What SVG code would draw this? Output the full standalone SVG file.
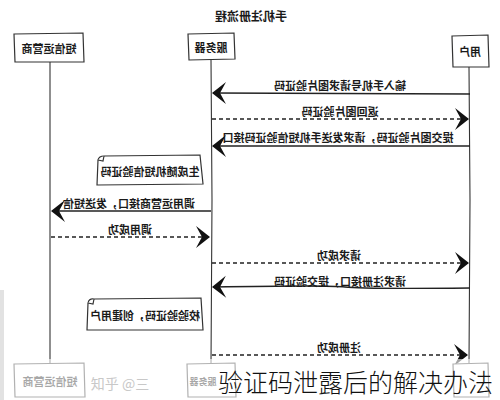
<svg xmlns="http://www.w3.org/2000/svg" width="500" height="400" viewBox="0 0 500 400">
<style>
.t{font-family:"Noto Sans CJK SC","Noto Sans CJK JP",sans-serif;font-size:11px;fill:#1a1a1a;text-anchor:middle;dominant-baseline:central;font-weight:600}
.title{font-size:12px;font-weight:700}
.box{fill:#fff;stroke:#333;stroke-width:1.2}
.life{stroke:#333;stroke-width:1.1;fill:none}
.msg{stroke:#222;stroke-width:1.4;fill:none}
.dash{stroke:#222;stroke-width:1.3;fill:none;stroke-dasharray:4 3}
.note{fill:#fff;stroke:#333;stroke-width:1.2}
.big{font-family:"Noto Sans CJK SC",sans-serif;font-size:25px;font-weight:300;fill:#111}
</style>
<defs>
<marker id="ah" viewBox="-15 -13 17 26" refX="0" refY="0" markerWidth="17" markerHeight="26" markerUnits="userSpaceOnUse" orient="auto">
<path d="M1,0 L-13,-11 L-7,0 L-13,11 Z" fill="#111"/>
</marker>
</defs>
<rect width="500" height="400" fill="#fff"/>
<g id="title"><text class="t title" transform="translate(251,15) scale(-1,1)">手机注册流程</text></g>
<g id="lifelines">
<path class="life" d="M50,62 L50,364"/>
<path class="life" d="M211,59 L212,200 L211,364"/>
<path class="life" d="M469,67 L470,200 L469,363"/>
</g>
<g id="sms"><path class="box" d="M14,34 L83,33 L84,62 L15,62 Z"/><text class="t" transform="translate(49,48) scale(-1,1)">短信运营商</text></g>
<g id="server"><path class="box" d="M188,34 L234,33 L235,59 L189,60 Z"/><text class="t" transform="translate(211,47) scale(-1,1)">服务器</text></g>
<g id="user"><path class="box" d="M452,36 L488,35 L489,67 L453,67 Z"/><text class="t" transform="translate(470,51) scale(-1,1)">用户</text></g>
<g id="note1"><path class="note" d="M98,160 Q99,156 104,156 L200,155 L203,184 L97,185 Z"/><path class="note" d="M98,160 L103,161 L104,156"/><text class="t" transform="translate(150,171) scale(-1,1)">生成随机短信验证码</text></g>
<g id="note2"><path class="note" d="M88,303 Q89,298 94,299 L201,298 L203,330 L87,330 Z"/><path class="note" d="M88,303 L93,304 L94,299"/><text class="t" transform="translate(145,315) scale(-1,1)">校验验证码，创建用户</text></g>
<g id="connectors">
<path class="msg" d="M470,94 L213,93" marker-end="url(#ah)"/>
<text class="t" transform="translate(340,85) scale(-1,1)">输入手机号请求图片验证码</text>
<path class="dash" d="M212,119 L468,119" marker-end="url(#ah)"/>
<text class="t" transform="translate(340,111) scale(-1,1)">返回图片验证码</text>
<path class="msg" d="M470,146 L213,146" marker-end="url(#ah)"/>
<text class="t" transform="translate(338,137) scale(-1,1)">提交图片验证码，请求发送手机短信验证码接口</text>
<path class="msg" d="M211,211 L52,211" marker-end="url(#ah)"/>
<text class="t" transform="translate(129,203) scale(-1,1)">调用运营商接口，发送短信</text>
<path class="dash" d="M51,237 L209,237" marker-end="url(#ah)"/>
<text class="t" transform="translate(130,229) scale(-1,1)">调用成功</text>
<path class="dash" d="M212,263 L468,263" marker-end="url(#ah)"/>
<text class="t" transform="translate(339,255) scale(-1,1)">请求成功</text>
<path class="msg" d="M470,288 Q360,289 345,287 Q330,285 213,287" marker-end="url(#ah)"/>
<text class="t" transform="translate(340,281) scale(-1,1)">请求注册接口，提交验证码</text>
<path class="dash" d="M212,355 L467,355" marker-end="url(#ah)"/>
<text class="t" transform="translate(339,347) scale(-1,1)">注册成功</text>
</g>
<g id="sms-bottom"><path class="box" d="M14,364 L84,363 L85,397 L15,397 Z"/><text class="t" transform="translate(50,381) scale(-1,1)">短信运营商</text></g>
<g id="server-bottom"><path class="box" d="M187,364 L235,363 L236,397 L188,397 Z"/><text class="t" style="font-size:9px" transform="translate(203,381) scale(-1,1)">服务器</text></g>
<g id="user-bottom"><path class="box" d="M453,364 L488,363 L489,397 L454,397 Z"/></g>
<rect x="0" y="359" width="500" height="41" fill="#fff" opacity="0.62"/>
<rect x="0" y="290" width="4" height="110" fill="#e2e2e2"/>
<text x="120" y="383" style="font-family:'Noto Sans CJK SC',sans-serif;font-size:14px;fill:#c8c8c8;text-anchor:middle;dominant-baseline:central">知乎 @三</text>
<text class="big" x="218" y="392">验证码泄露后的解决办法</text>
</svg>
